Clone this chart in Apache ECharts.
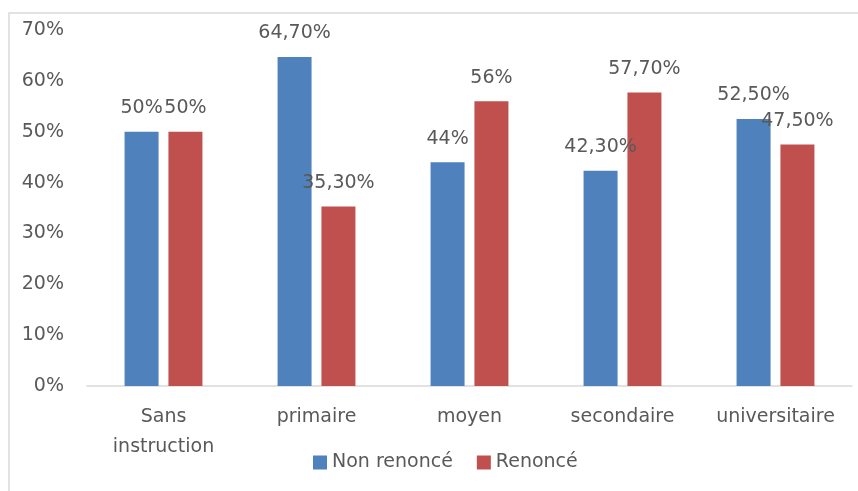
<!DOCTYPE html>
<html>
<head>
<meta charset="utf-8">
<script src="https://cdn.jsdelivr.net/npm/echarts@6/dist/echarts.min.js"></script>
<style>
  html, body { margin: 0; padding: 0; background: #fff; }
  #chart { width: 858px; height: 491px; }
</style>
</head>
<body>
<div id="chart"></div>
<script>
// Education level categories
const categories = ['Sans\ninstruction', 'primaire', 'moyen', 'secondaire', 'universitaire'];
// Share of respondents per group (%)
const nonRenonce = [50, 64.7, 44, 42.3, 52.5];
const renonce = [50, 35.3, 56, 57.7, 47.5];
const seriesNames = ['Non renoncé', 'Renoncé'];
// Y axis range and step (%)
const yMin = 0, yMax = 70, yStep = 10;

const FONT = 'DejaVu Sans';
const TEXT = '#595959';

// French-style percent label: integers stay bare, others keep two decimals
function pct(v) {
  return Number.isInteger(v) ? v + '%' : v.toFixed(2).replace('.', ',') + '%';
}

const labelStyle = {
  show: true,
  position: 'top',
  distance: 14,
  color: TEXT,
  fontFamily: FONT,
  fontSize: 19,
  formatter: p => pct(p.value)
};

const chart = echarts.init(document.getElementById('chart'), null, { renderer: 'canvas' });
chart.setOption({
  backgroundColor: '#fff',
  animation: false,
  graphic: [{
    type: 'rect',
    shape: { x: 9, y: 13, width: 900, height: 600 },
    style: { fill: 'none', stroke: '#d9d9d9', lineWidth: 1.5 },
    silent: true
  }],
  grid: { left: 87, right: 6, top: 30, bottom: 105 },
  legend: {
    left: 308,
    top: 448,
    itemWidth: 14,
    itemHeight: 14,
    itemGap: 24,
    icon: 'rect',
    textStyle: { color: TEXT, fontFamily: FONT, fontSize: 19 },
    data: seriesNames
  },
  xAxis: {
    type: 'category',
    data: categories,
    axisLine: { lineStyle: { color: '#d9d9d9', width: 1.5 } },
    axisTick: { show: false },
    axisLabel: {
      color: TEXT, fontFamily: FONT, fontSize: 19,
      lineHeight: 30, margin: 16, interval: 0
    }
  },
  yAxis: {
    type: 'value',
    min: yMin,
    max: yMax,
    interval: yStep,
    axisLine: { show: false },
    axisTick: { show: false },
    splitLine: { show: false },
    axisLabel: {
      color: TEXT, fontFamily: FONT, fontSize: 19, margin: 23,
      formatter: v => v + '%'
    }
  },
  series: [
    {
      name: seriesNames[0],
      type: 'bar',
      data: nonRenonce,
      barWidth: 34,
      barGap: '29%',
      itemStyle: { color: '#4F81BD' },
      label: labelStyle
    },
    {
      name: seriesNames[1],
      type: 'bar',
      data: renonce,
      barWidth: 34,
      barGap: '29%',
      itemStyle: { color: '#C0504D' },
      label: labelStyle
    }
  ]
});
</script>
</body>
</html>
